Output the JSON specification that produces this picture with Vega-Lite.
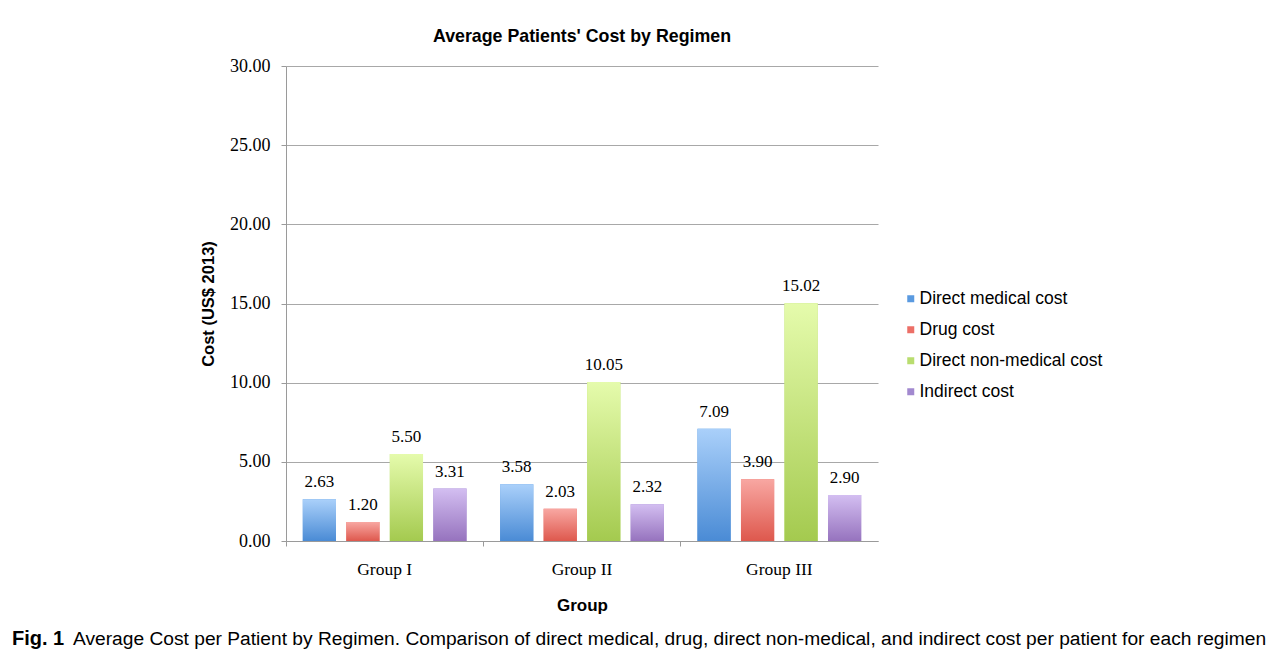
{
  "$schema": "https://vega.github.io/schema/vega-lite/v6.json",
  "padding": {"left": 12, "top": 28, "right": 5, "bottom": 5},
  "background": "white",
  "spacing": 15,
  "datasets": {
    "costs": [
      {"group": "Group I", "type": "Direct medical cost", "cost": 2.63},
      {"group": "Group I", "type": "Drug cost", "cost": 1.20},
      {"group": "Group I", "type": "Direct non-medical cost", "cost": 5.50},
      {"group": "Group I", "type": "Indirect cost", "cost": 3.31},
      {"group": "Group II", "type": "Direct medical cost", "cost": 3.58},
      {"group": "Group II", "type": "Drug cost", "cost": 2.03},
      {"group": "Group II", "type": "Direct non-medical cost", "cost": 10.05},
      {"group": "Group II", "type": "Indirect cost", "cost": 2.32},
      {"group": "Group III", "type": "Direct medical cost", "cost": 7.09},
      {"group": "Group III", "type": "Drug cost", "cost": 3.90},
      {"group": "Group III", "type": "Direct non-medical cost", "cost": 15.02},
      {"group": "Group III", "type": "Indirect cost", "cost": 2.90}
    ],
    "caption": [
      {"fig": "Fig. 1", "text": "Average Cost per Patient by Regimen. Comparison of direct medical, drug, direct non-medical, and indirect cost per patient for each regimen"}
    ]
  },
  "config": {
    "view": {"stroke": null},
    "axis": {"domainColor": "#9a9a9a", "tickColor": "#9a9a9a", "gridColor": "#a8a8a8", "labelColor": "black", "titleColor": "black"}
  },
  "vconcat": [
    {
      "width": 592,
      "height": 475,
      "title": {"text": "Average Patients' Cost by Regimen", "font": "Liberation Sans", "fontSize": 17.8, "fontWeight": "bold", "color": "black", "offset": 11},
      "data": {"name": "costs"},
      "encoding": {
        "x": {"field": "group", "type": "nominal", "sort": ["Group I", "Group II", "Group III"],
          "scale": {"paddingInner": 0, "paddingOuter": 0},
          "axis": {"title": "Group", "labelAngle": 0, "bandPosition": 0, "tickSize": 5, "labelPadding": 14, "labelFont": "Liberation Serif", "labelFontSize": 17.5, "titleFont": "Liberation Sans", "titleFontSize": 17, "titleFontWeight": "bold", "titlePadding": 20, "grid": false}},
        "xOffset": {"field": "type", "type": "nominal",
          "scale": {"domain": ["Direct medical cost", "Drug cost", "Direct non-medical cost", "Indirect cost"], "paddingInner": 0.237, "paddingOuter": 0.386}},
        "y": {"field": "cost", "type": "quantitative",
          "scale": {"domain": [0, 30], "nice": false},
          "axis": {"title": "Cost (US$ 2013)", "values": [0, 5, 10, 15, 20, 25, 30], "format": ".2f", "tickSize": 5, "labelPadding": 11, "labelFont": "Liberation Serif", "labelFontSize": 18, "titleFont": "Liberation Sans", "titleFontSize": 16.5, "titleFontWeight": "bold", "titlePadding": 13, "grid": true}}
      },
      "layer": [
        {
          "mark": {"type": "bar"},
          "encoding": {
            "color": {"field": "type", "type": "nominal",
              "scale": {"domain": ["Direct medical cost", "Drug cost", "Direct non-medical cost", "Indirect cost"], "range": ["#5a9ae0", "#ec6f67", "#b9dd6f", "#a289cf"]},
              "legend": {"title": null, "orient": "none", "legendX": 616, "legendY": 224, "symbolType": "square", "symbolSize": 49, "symbolStrokeWidth": 0, "labelFont": "Liberation Sans", "labelFontSize": 17.5, "labelColor": "black", "labelLimit": 0, "rowPadding": 12, "labelOffset": 0}}
          }
        },
        {
          "transform": [{"filter": "datum.type === 'Direct medical cost'"}],
          "mark": {"type": "bar", "color": {"gradient": "linear", "x1": 0, "y1": 0, "x2": 0, "y2": 1, "stops": [{"offset": 0, "color": "#aad0fa"}, {"offset": 1, "color": "#4a8bd5"}]}}
        },
        {
          "transform": [{"filter": "datum.type === 'Drug cost'"}],
          "mark": {"type": "bar", "color": {"gradient": "linear", "x1": 0, "y1": 0, "x2": 0, "y2": 1, "stops": [{"offset": 0, "color": "#f8a7a2"}, {"offset": 1, "color": "#de584d"}]}}
        },
        {
          "transform": [{"filter": "datum.type === 'Direct non-medical cost'"}],
          "mark": {"type": "bar", "color": {"gradient": "linear", "x1": 0, "y1": 0, "x2": 0, "y2": 1, "stops": [{"offset": 0, "color": "#e5fbac"}, {"offset": 1, "color": "#a4ca4f"}]}}
        },
        {
          "transform": [{"filter": "datum.type === 'Indirect cost'"}],
          "mark": {"type": "bar", "color": {"gradient": "linear", "x1": 0, "y1": 0, "x2": 0, "y2": 1, "stops": [{"offset": 0, "color": "#d3bef1"}, {"offset": 1, "color": "#9673be"}]}}
        },
        {
          "mark": {"type": "text", "baseline": "bottom", "dy": -8, "font": "Liberation Serif", "fontSize": 17, "color": "black"},
          "encoding": {"text": {"field": "cost", "type": "quantitative", "format": ".2f"}}
        }
      ]
    },
    {
      "width": 1260,
      "height": 20,
      "data": {"name": "caption"},
      "layer": [
        {
          "mark": {"type": "text", "align": "left", "baseline": "middle", "font": "Liberation Sans", "fontSize": 20, "fontWeight": "bold", "color": "black"},
          "encoding": {"x": {"value": -274}, "y": {"value": 10}, "text": {"field": "fig"}}
        },
        {
          "mark": {"type": "text", "align": "left", "baseline": "middle", "font": "Liberation Sans", "fontSize": 19.2, "color": "black"},
          "encoding": {"x": {"value": -213}, "y": {"value": 10}, "text": {"field": "text"}}
        }
      ]
    }
  ]
}
